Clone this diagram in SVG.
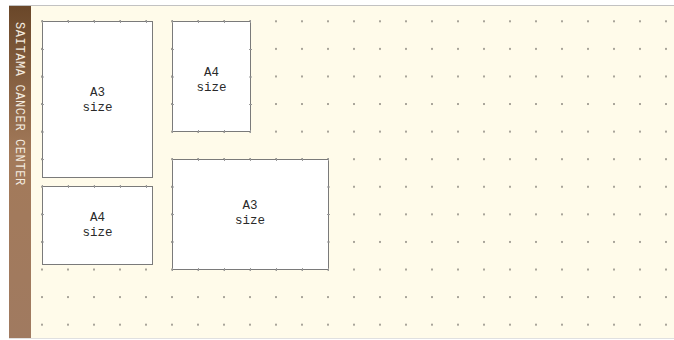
<svg xmlns="http://www.w3.org/2000/svg" width="674" height="340" viewBox="0 0 674 340">
  <style>
    .sheet { fill: #ffffff; stroke: #7a7a7a; stroke-width: 1; }
    .tick { stroke: #999999; stroke-width: 1; fill: none; }
    .lbl { font-family: "Liberation Mono", "DejaVu Sans Mono", monospace; font-size: 12.5px; fill: #2a2a2a; text-anchor: middle; }
    .side { font-family: "Liberation Mono", "DejaVu Sans Mono", monospace; font-size: 12px; fill: #f4ece0; letter-spacing: 0.6px; }
  </style>
  <defs>
    <linearGradient id="band" x1="0" y1="0" x2="0" y2="1">
      <stop offset="0" stop-color="#6a4729"/>
      <stop offset="0.45" stop-color="#a37a5a"/>
      <stop offset="1" stop-color="#a07a60"/>
    </linearGradient>
    <pattern id="dots" patternUnits="userSpaceOnUse" x="41" y="20.3" width="26" height="27.58">
      <rect x="0" y="0" width="2" height="2" fill="#a9a59a"/>
    </pattern>
  </defs>

  <rect x="0" y="0" width="674" height="340" fill="#ffffff"/>
  <rect x="9" y="6" width="665" height="332" fill="#fffbea"/>
  <line x1="9" y1="5.5" x2="674" y2="5.5" stroke="#c2c2c2" stroke-width="1"/>
  <line x1="9" y1="338.5" x2="674" y2="338.5" stroke="#e0e0e0" stroke-width="1"/>
  <rect x="31" y="6" width="643" height="332" fill="url(#dots)"/>

  <g id="sidebar">
    <rect x="9" y="6" width="22" height="332" fill="url(#band)"/>
    <text class="side" transform="translate(15.5,22) rotate(90)">SAITAMA CANCER CENTER</text>
  </g>

  <g id="a3-top-left">
    <rect class="sheet" x="42.5" y="21.5" width="110" height="156"/>
    <path class="tick" d="M42.5 20v3M68.5 20v3M94.5 20v3M120.5 20v3M146.5 20v3M41 49.5h3M41 77h3M41 104.5h3M41 132h3M41 159.5h3"/>
    <text class="lbl" x="97.5" y="96">A3</text>
    <text class="lbl" x="97.5" y="111">size</text>
  </g>

  <g id="a4-top-right">
    <rect class="sheet" x="172.5" y="21.5" width="78" height="110"/>
    <path class="tick" d="M172.5 20v3M198.5 20v3M224.5 20v3M250.5 20v3M172.5 130v3M198.5 130v3M224.5 130v3M250.5 130v3M171 49.5h3M171 77h3M171 104.5h3M249 49.5h3M249 77h3M249 104.5h3"/>
    <text class="lbl" x="211.5" y="76">A4</text>
    <text class="lbl" x="211.5" y="91">size</text>
  </g>

  <g id="a4-bottom-left">
    <rect class="sheet" x="42.5" y="186.5" width="110" height="78"/>
    <path class="tick" d="M42.5 185v3M68.5 185v3M94.5 185v3M120.5 185v3M146.5 185v3M41 214.5h3M41 242h3"/>
    <text class="lbl" x="97.5" y="221">A4</text>
    <text class="lbl" x="97.5" y="236">size</text>
  </g>

  <g id="a3-bottom-right">
    <rect class="sheet" x="172.5" y="159.5" width="156" height="110"/>
    <path class="tick" d="M172.5 158v3M198.5 158v3M224.5 158v3M250.5 158v3M276.5 158v3M302.5 158v3M328.5 158v3M172.5 268v3M198.5 268v3M224.5 268v3M250.5 268v3M276.5 268v3M302.5 268v3M328.5 268v3M171 187h3M171 214.5h3M171 242h3M327 187h3M327 214.5h3M327 242h3"/>
    <text class="lbl" x="250" y="209">A3</text>
    <text class="lbl" x="250" y="224">size</text>
  </g>

  <g id="connectors"></g>
</svg>
